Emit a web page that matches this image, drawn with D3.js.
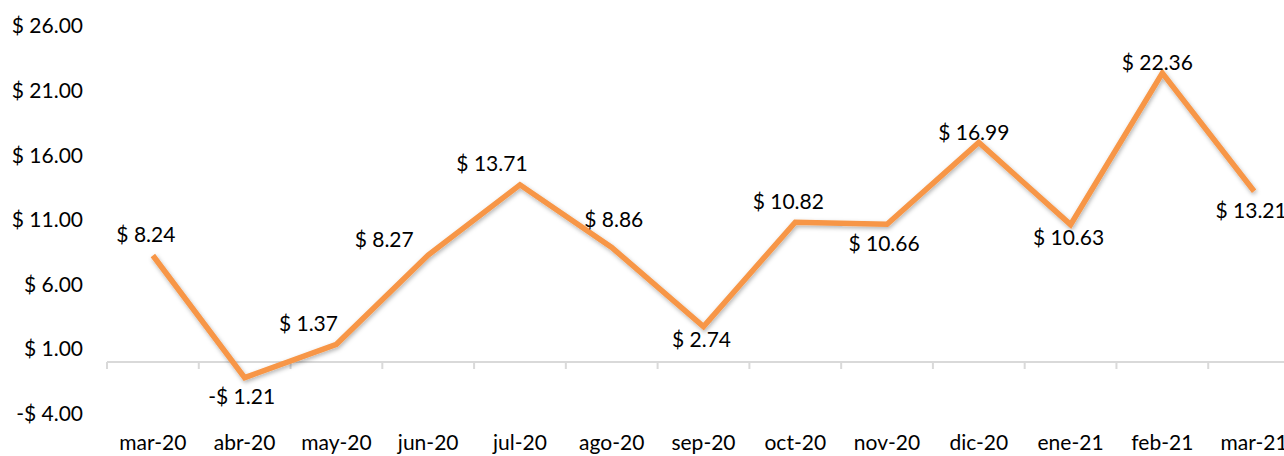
<!DOCTYPE html>
<html>
<head>
<meta charset="utf-8">
<script src="https://cdn.jsdelivr.net/npm/d3@7"></script>
<style>
  body { margin: 0; background: #fff; }
  text { font-family: Lato, "Open Sans", sans-serif; fill: #000; }
</style>
</head>
<body>
<div id="chart"></div>
<script>
// data
var months = ["mar-20", "abr-20", "may-20", "jun-20", "jul-20", "ago-20", "sep-20",
              "oct-20", "nov-20", "dic-20", "ene-21", "feb-21", "mar-21"];
var values = [8.24, -1.21, 1.37, 8.27, 13.71, 8.86, 2.74, 10.82, 10.66, 16.99, 10.63, 22.36, 13.21];
var labelSide = ["above", "below", "aboveleft", "left", "aboveleft", "abovefar", "belownear",
                 "above", "below", "abovenear", "belownear", "abovenear", "below"];
var yTicks = [-4, 1, 6, 11, 16, 21, 26];

var width = 1284, height = 456;
var margin = {top: 26, right: -16, bottom: 43, left: 107};

var svg = d3.select("#chart")
    .append("svg")
    .attr("width", width)
    .attr("height", height);

var defs = svg.append("defs");
var f = defs.append("filter").attr("id", "shadow")
    .attr("x", "-5%").attr("y", "-10%").attr("width", "110%").attr("height", "130%");
f.append("feDropShadow")
    .attr("dx", 1).attr("dy", 2).attr("stdDeviation", 2)
    .attr("flood-color", "#000").attr("flood-opacity", 0.3);

var x = d3.scaleBand()
    .domain(months)
    .range([margin.left, width - margin.right]);

var y = d3.scaleLinear()
    .domain([-4, 26])
    .range([413.7, 26]);

function fmt(v) {
    return (v < 0 ? "-$ " : "$ ") + Math.abs(v).toFixed(2);
}

// y labels (no axis line)
svg.append("g")
    .selectAll("text")
    .data(yTicks)
    .enter()
    .append("text")
    .attr("x", 83)
    .attr("y", function(d) { return y(d); })
    .attr("dy", "0.35em")
    .attr("text-anchor", "end")
    .style("font-size", "21px")
    .text(fmt);

// category axis at zero
var xAxis = svg.append("g")
    .attr("transform", "translate(0," + y(0) + ")");
xAxis.append("line")
    .attr("x1", x.range()[0]).attr("x2", x.range()[1])
    .attr("stroke", "#d9d9d9").attr("stroke-width", 2);
xAxis.selectAll(".tick")
    .data(months)
    .enter()
    .append("line")
    .attr("x1", function(d) { return x(d); })
    .attr("x2", function(d) { return x(d); })
    .attr("y1", 0).attr("y2", 7)
    .attr("stroke", "#d9d9d9").attr("stroke-width", 2);

svg.append("g")
    .selectAll("text")
    .data(months)
    .enter()
    .append("text")
    .attr("x", function(d) { return x(d) + x.bandwidth() / 2; })
    .attr("y", 443)
    .attr("dy", "0.35em")
    .attr("text-anchor", "middle")
    .style("font-size", "21px")
    .text(function(d) { return d; });

var pts = months.map(function(m, i) { return {m: m, v: values[i], side: labelSide[i]}; });

var line = d3.line()
    .x(function(d) { return x(d.m) + x.bandwidth() / 2; })
    .y(function(d) { return y(d.v); });

svg.append("path")
    .datum(pts)
    .attr("d", line)
    .attr("fill", "none")
    .attr("stroke", "#f79646")
    .attr("stroke-width", 5.5)
    .attr("stroke-linejoin", "miter")
    .attr("filter", "url(#shadow)");

var offsets = {
    above: [-7, -21],
    abovefar: [2, -28],
    abovenear: [-5, -10],
    below: [-3, 19],
    belownear: [-2, 13],
    aboveleft: [-28, -21],
    left: [-44, -15]
};

svg.append("g")
    .selectAll("text")
    .data(pts)
    .enter()
    .append("text")
    .attr("x", function(d) { return x(d.m) + x.bandwidth() / 2 + offsets[d.side][0]; })
    .attr("y", function(d) { return y(d.v) + offsets[d.side][1]; })
    .attr("dy", "0.35em")
    .attr("text-anchor", "middle")
    .style("font-size", "21px")
    .text(function(d) { return fmt(d.v); });
</script>
</body>
</html>
